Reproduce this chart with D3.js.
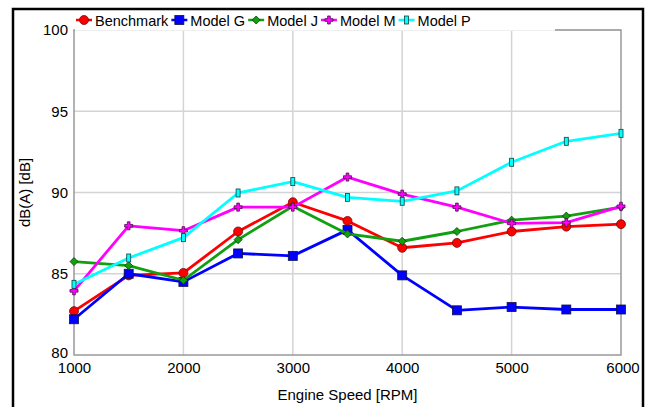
<!DOCTYPE html>
<html>
<head>
<meta charset="utf-8">
<script src="https://cdn.jsdelivr.net/npm/d3@7"></script>
<style>
  body { margin: 0; background: #fff; }
  svg { display: block; font-family: "Liberation Sans", Arial, sans-serif; }
</style>
</head>
<body>
<svg id="chart"></svg>
<script>
const width = 649;
const height = 407;

const rpm = [1000, 1500, 2000, 2500, 3000, 3500, 4000, 4500, 5000, 5500, 6000];
const benchmark = [82.7, 84.9, 85.05, 87.6, 89.4, 88.25, 86.6, 86.9, 87.6, 87.9, 88.05];
const modelG = [82.2, 85.0, 84.5, 86.25, 86.1, 87.7, 84.9, 82.75, 82.95, 82.8, 82.8];
const modelJ = [85.75, 85.5, 84.6, 87.1, 89.15, 87.45, 87.0, 87.6, 88.3, 88.55, 89.1];
const modelM = [83.95, 87.95, 87.65, 89.1, 89.1, 90.95, 89.9, 89.1, 88.1, 88.15, 89.15];
const modelP = [84.35, 85.97, 87.22, 89.97, 90.67, 89.7, 89.46, 90.1, 91.86, 93.15, 93.64];
const xTicks = [1000, 2000, 3000, 4000, 5000, 6000];
const yTicks = [80, 85, 90, 95, 100];

const series = [
  {name: 'Benchmark', values: benchmark, color: '#ff0000', marker: 'circle'},
  {name: 'Model G', values: modelG, color: '#0000ff', marker: 'square'},
  {name: 'Model J', values: modelJ, color: '#10a010', marker: 'diamond'},
  {name: 'Model M', values: modelM, color: '#ff00ff', marker: 'plus'},
  {name: 'Model P', values: modelP, color: '#00ffff', marker: 'bar'}
];

const margin = {left: 74, right: 28, top: 30, bottom: 52};

const svg = d3.select('#chart')
  .attr('width', width)
  .attr('height', height);

const xScale = d3.scaleLinear()
  .domain([1000, 6000])
  .range([margin.left, width - margin.right]);

const yScale = d3.scaleLinear()
  .domain([80, 100])
  .range([height - margin.bottom, margin.top]);

// outer frame
svg.append('rect')
  .attr('x', 13).attr('y', 9)
  .attr('width', 630).attr('height', 420)
  .attr('fill', 'none')
  .attr('stroke', '#000')
  .attr('stroke-width', 2.5);

// grid
svg.append('g')
  .selectAll('line')
  .data(xTicks.slice(1, -1))
  .join('line')
  .attr('x1', (d) => xScale(d)).attr('x2', (d) => xScale(d))
  .attr('y1', yScale(100)).attr('y2', yScale(80))
  .attr('stroke', '#d4d4d4')
  .attr('stroke-width', 1.5);

svg.append('g')
  .selectAll('line')
  .data(yTicks.slice(1))
  .join('line')
  .attr('x1', xScale(1000)).attr('x2', xScale(6000))
  .attr('y1', (d) => yScale(d)).attr('y2', (d) => yScale(d))
  .attr('stroke', '#d4d4d4')
  .attr('stroke-width', 1.5);

// plot border
svg.append('rect')
  .attr('x', xScale(1000)).attr('y', yScale(100))
  .attr('width', xScale(6000) - xScale(1000))
  .attr('height', yScale(80) - yScale(100))
  .attr('fill', 'none')
  .attr('stroke', '#999')
  .attr('stroke-width', 1.5);

// white strip behind the legend hides the top line there
svg.append('rect')
  .attr('x', xScale(1000) + 1).attr('y', 12)
  .attr('width', 480).attr('height', yScale(100) - 11.2)
  .attr('fill', '#fff');

// axes
const yAxis = svg.append('g')
  .attr('transform', `translate(${xScale(1000)}, 0)`)
  .call(d3.axisLeft(yScale).tickValues(yTicks).tickSize(0).tickPadding(6));
yAxis.select('.domain').remove();
yAxis.selectAll('text')
  .attr('font-size', 15)
  .attr('fill', '#000')
  .attr('font-family', '"Liberation Sans", Arial, sans-serif');
yAxis.selectAll('.tick')
  .filter((d) => d === 80)
  .select('text')
  .attr('dy', '0.15em');

const xAxis = svg.append('g')
  .attr('transform', `translate(0, ${yScale(80)})`)
  .call(d3.axisBottom(xScale).tickValues(xTicks).tickSize(0).tickPadding(7).tickFormat(d3.format('d')));
xAxis.select('.domain').remove();
xAxis.selectAll('text')
  .attr('font-size', 15)
  .attr('fill', '#000')
  .attr('font-family', '"Liberation Sans", Arial, sans-serif');
xAxis.selectAll('.tick')
  .filter((d) => d === 6000)
  .select('text')
  .attr('dx', '0.1em');

// axis titles
svg.append('text')
  .attr('x', (xScale(1000) + xScale(6000)) / 2)
  .attr('y', 400)
  .attr('text-anchor', 'middle')
  .attr('font-size', 15)
  .text('Engine Speed [RPM]');

svg.append('text')
  .attr('transform', `translate(30, ${yScale(90)}) rotate(-90)`)
  .attr('text-anchor', 'middle')
  .attr('font-size', 15)
  .text('dB(A) [dB]');

// markers
function drawMarker(g, type, color) {
  if (type === 'circle') {
    g.append('circle').attr('r', 4.5).attr('fill', color).attr('stroke', '#6a1010').attr('stroke-width', 0.8);
  } else if (type === 'square') {
    g.append('rect').attr('x', -4.5).attr('y', -4.5).attr('width', 9).attr('height', 9)
      .attr('fill', color).attr('stroke', '#10104a').attr('stroke-width', 0.8);
  } else if (type === 'diamond') {
    g.append('path').attr('d', 'M0,-4L4,0L0,4L-4,0Z')
      .attr('fill', color).attr('stroke', '#0a3a0a').attr('stroke-width', 0.8);
  } else if (type === 'plus') {
    g.append('path').attr('d', d3.symbol(d3.symbolCross, 36)())
      .attr('fill', color).attr('stroke', '#4a104a').attr('stroke-width', 0.8);
  } else {
    g.append('rect').attr('x', -2).attr('y', -4).attr('width', 4).attr('height', 8)
      .attr('fill', color).attr('stroke', '#104040').attr('stroke-width', 0.8);
  }
}

const line = d3.line()
  .x((d, i) => xScale(rpm[i]))
  .y((d) => yScale(d));

series.forEach((s) => {
  const g = svg.append('g');
  g.append('path')
    .attr('d', line(s.values))
    .attr('fill', 'none')
    .attr('stroke', s.color)
    .attr('stroke-width', 2.8)
    .attr('stroke-linejoin', 'round');
  s.values.forEach((v, i) => {
    const m = g.append('g').attr('transform', `translate(${xScale(rpm[i])}, ${yScale(v)})`);
    drawMarker(m, s.marker, s.color);
  });
});

// legend
const legend = svg.append('g').attr('transform', 'translate(76, 20)');
let lx = 0;
series.forEach((s) => {
  const item = legend.append('g').attr('transform', `translate(${lx}, 0)`);
  item.append('line')
    .attr('x1', 0).attr('x2', 16)
    .attr('stroke', s.color)
    .attr('stroke-width', 2.5);
  const m = item.append('g').attr('transform', 'translate(8, 0)');
  drawMarker(m, s.marker, s.color);
  const t = item.append('text')
    .attr('x', 19)
    .attr('y', 5.5)
    .attr('font-size', 14.5)
    .text(s.name);
  lx += 19 + t.node().getComputedTextLength() + 3;
});
</script>
</body>
</html>
